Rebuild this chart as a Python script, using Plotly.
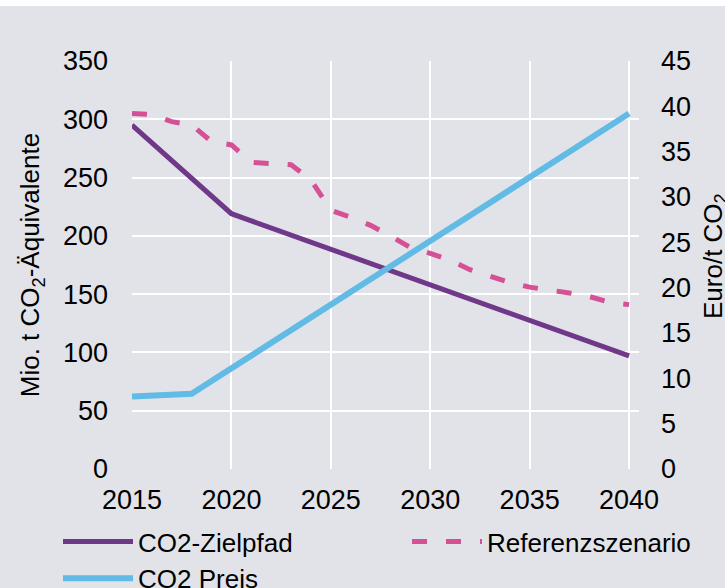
import plotly.graph_objects as go

years = list(range(2015, 2041))
zielpfad = [295, 280, 265, 249, 234, 219, 212.9, 206.8, 200.7, 194.6, 188.5, 182.4, 176.3,
            170.2, 164.1, 158, 151.9, 145.8, 139.7, 133.6, 127.5, 121.4, 115.3, 109.2,
            103.1, 97]
referenz = [305, 304, 298, 295, 281, 278, 263, 262, 261, 248, 222, 216, 209, 200, 190, 185,
            179, 171, 165, 160, 156, 154, 151, 148, 143, 141]
preis = [8.0, 8.1, 8.2, 8.3, 9.7, 11.1, 12.5, 13.9, 15.3, 16.8, 18.2, 19.6, 21.0, 22.4, 23.8,
         25.2, 26.6, 28.0, 29.4, 30.8, 32.2, 33.6, 35.0, 36.4, 37.8, 39.2]

x_ticks = [2015, 2020, 2025, 2030, 2035, 2040]
left_ticks = [0, 50, 100, 150, 200, 250, 300, 350]
right_ticks = [0, 5, 10, 15, 20, 25, 30, 35, 40, 45]

BG = "#e2e3e8"
PURPLE = "#6f3889"
PINK = "#d65096"
BLUE = "#61bbe4"
FONT = "Liberation Sans, Arial, sans-serif"

fig = go.Figure()
fig.add_trace(go.Scatter(x=years, y=zielpfad, name="CO2-Zielpfad", mode="lines",
                         line=dict(color=PURPLE, width=5), legend="legend"))
fig.add_trace(go.Scatter(x=years, y=preis, name="CO2 Preis", mode="lines",
                         line=dict(color=BLUE, width=6), yaxis="y2", legend="legend"))
fig.add_trace(go.Scatter(x=years, y=referenz, name="Referenzszenario", mode="lines",
                         line=dict(color=PINK, width=5, dash="15px,19px"), legend="legend2"))

fig.update_layout(
    width=725, height=588,
    margin=dict(l=132, r=86, t=61, b=119),
    paper_bgcolor="white",
    plot_bgcolor=BG,
    font=dict(family=FONT, size=27, color="black"),
    xaxis=dict(range=[2015, 2040.5], tickvals=x_ticks, showgrid=True, gridcolor="white",
               gridwidth=2, zeroline=False, showline=False, ticks="", automargin=False,
               tickangle=0, ticklabelstandoff=12, tickfont=dict(size=27)),
    yaxis=dict(range=[0, 350], tickvals=left_ticks, showgrid=True, gridcolor="white",
               gridwidth=2, zeroline=False, showline=False, ticks="", automargin=False,
               ticklabelstandoff=23, tickfont=dict(size=27),
               title=dict(text="Mio. t CO<sub>2</sub>-Äquivalente", font=dict(size=26),
                          standoff=15)),
    yaxis2=dict(range=[0, 45], tickvals=right_ticks, overlaying="y", side="right",
                showgrid=False, zeroline=False, showline=False, ticks="", automargin=False,
                ticklabelstandoff=21, tickfont=dict(size=27)),
    annotations=[dict(text="Euro/t CO<sub>2</sub>", textangle=-90, showarrow=False,
                      xref="paper", yref="paper", x=(714 - 132) / 507, y=(469 - 256) / 408,
                      xanchor="center", yanchor="middle", font=dict(size=26))],
    legend=dict(xref="container", yref="container", x=58 / 725, y=1 - 518 / 588,
                xanchor="left", yanchor="top", orientation="h", entrywidth=300,
                itemwidth=70, bgcolor="rgba(0,0,0,0)", font=dict(size=26),
                tracegroupgap=0),
    legend2=dict(xref="container", yref="container", x=407 / 725, y=1 - 518 / 588,
                 xanchor="left", yanchor="top", orientation="h", itemwidth=70,
                 bgcolor="rgba(0,0,0,0)", font=dict(size=26)),
    shapes=[dict(type="rect", xref="paper", yref="paper", x0=-0.5, x1=1.5,
                 y0=-0.5, y1=(469 - 6) / 408, fillcolor=BG, line=dict(width=0),
                 layer="below")],
    showlegend=True,
)

fig.write_html("out.html", config={"displayModeBar": False},
               post_script="document.body.style.margin='0';")
